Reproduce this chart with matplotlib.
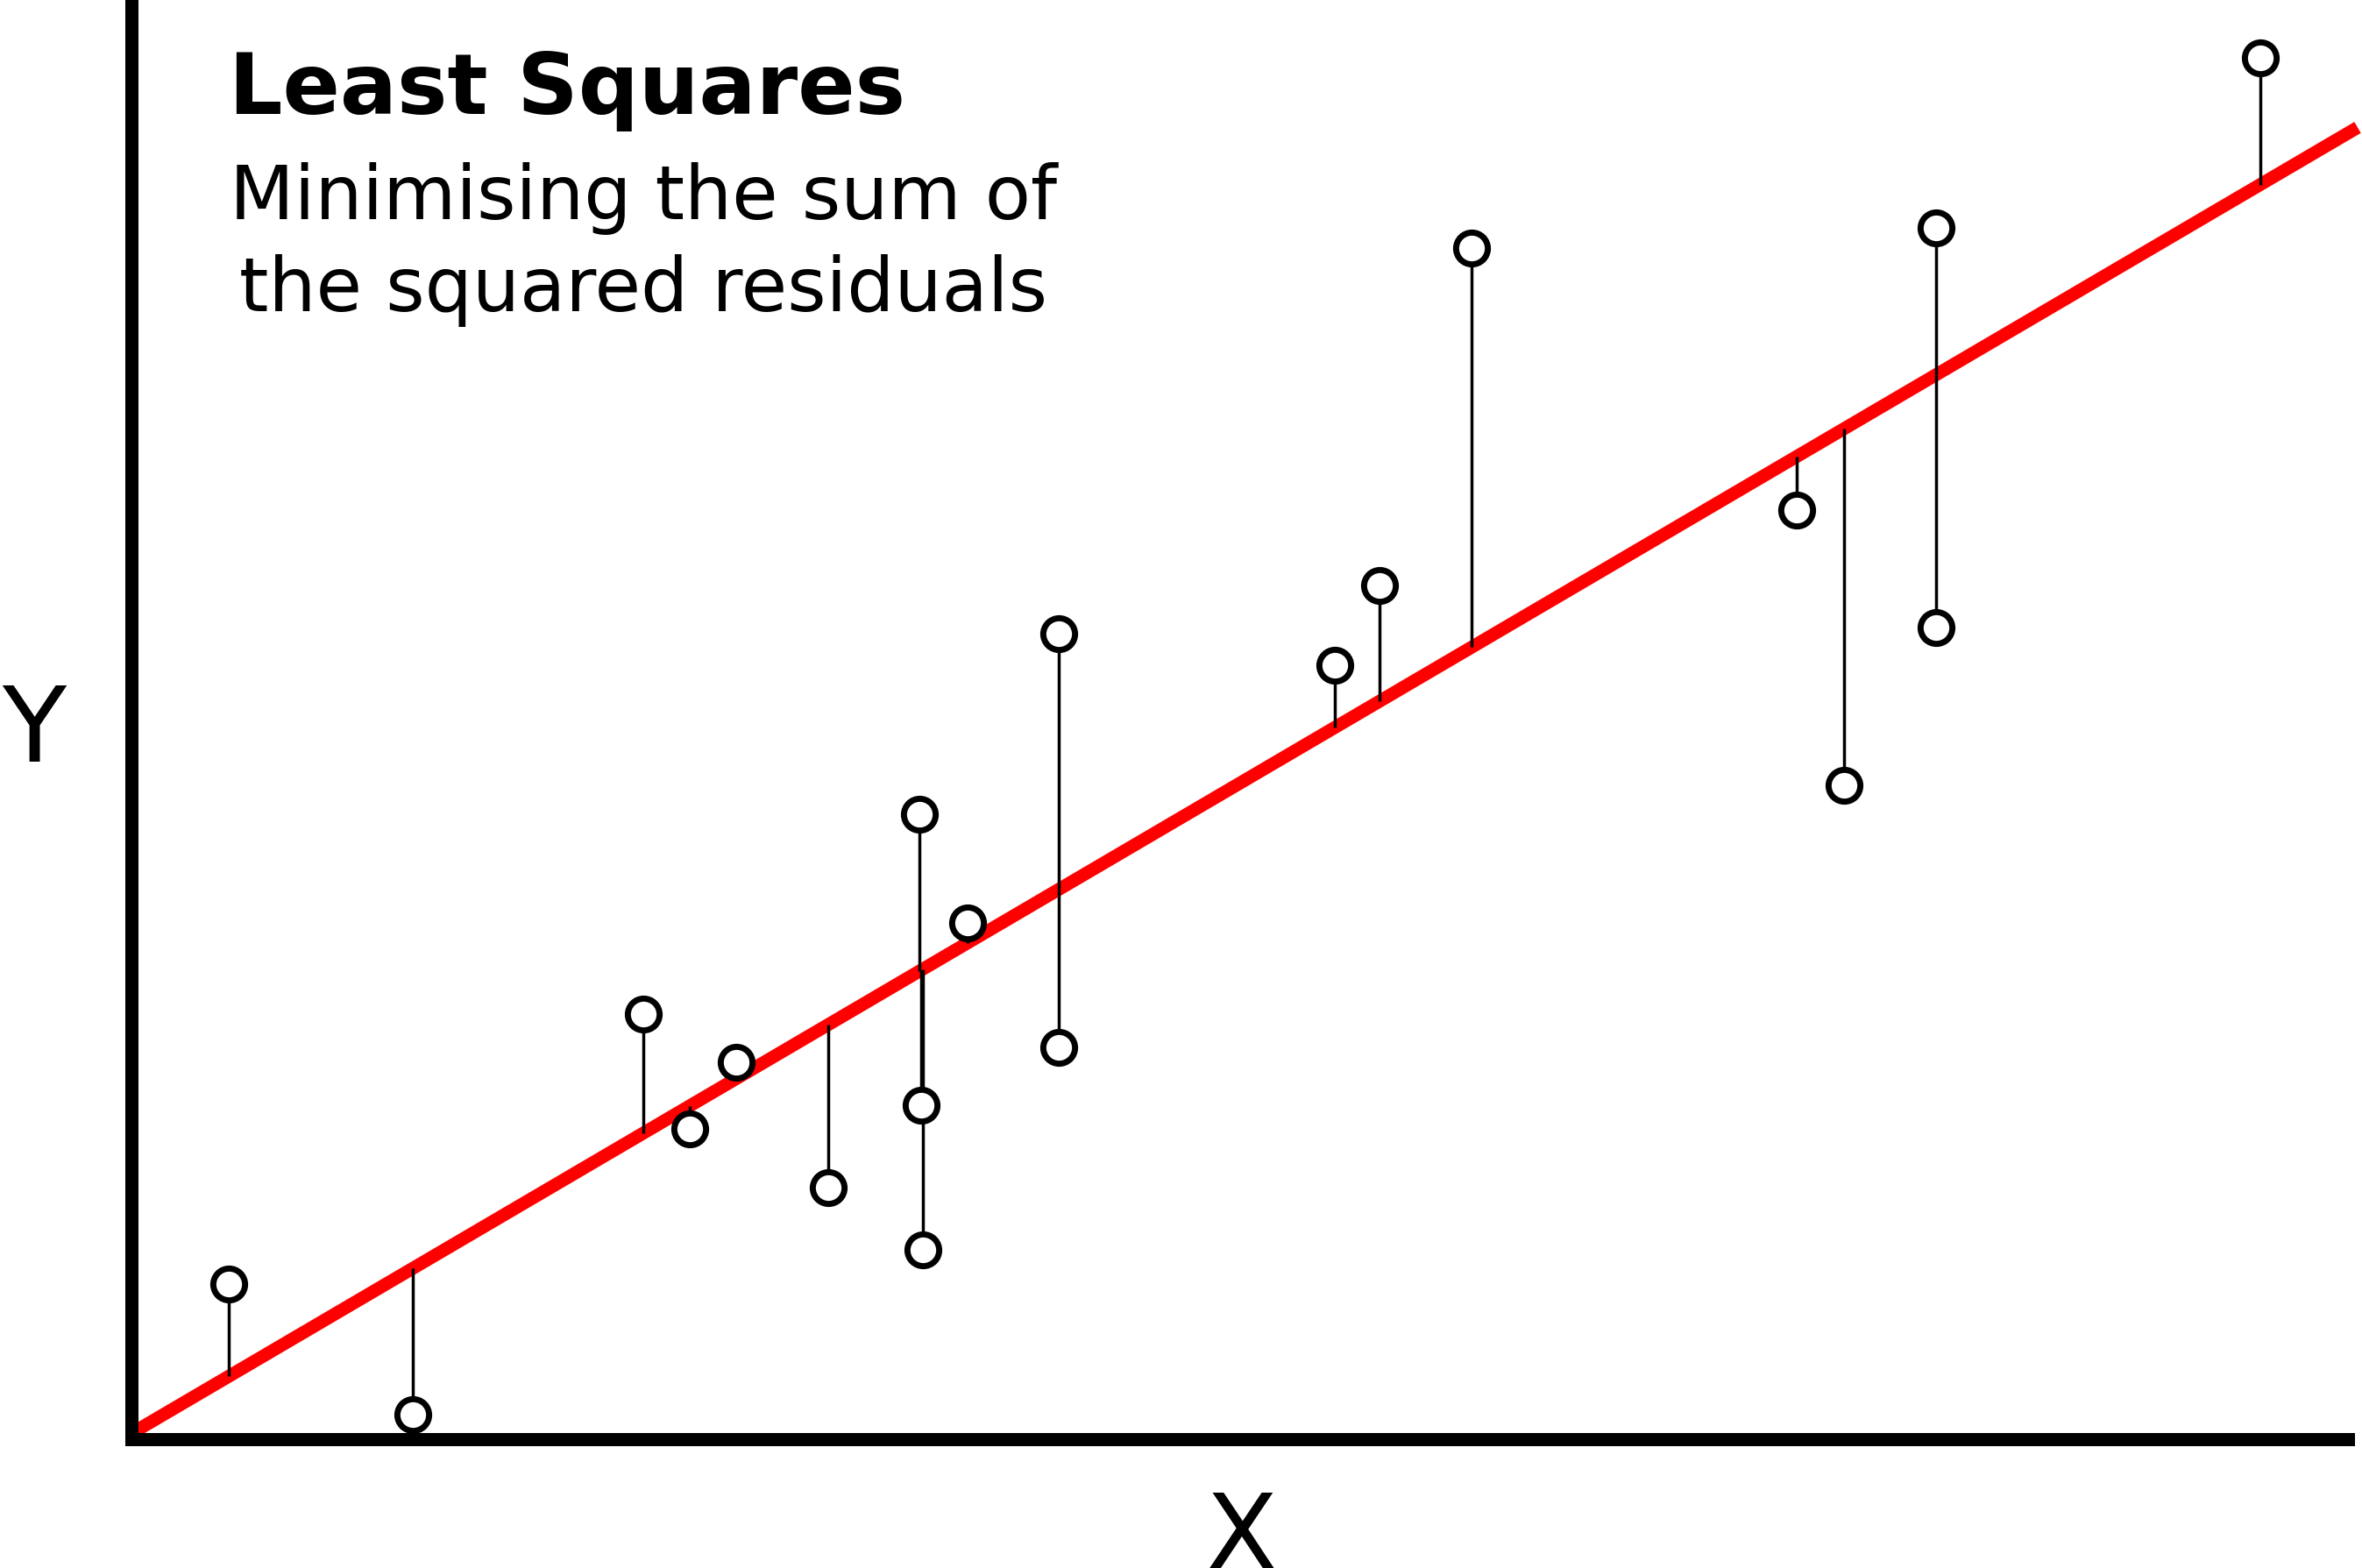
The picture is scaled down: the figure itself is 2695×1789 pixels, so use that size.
import matplotlib
matplotlib.use("Agg")
import matplotlib.pyplot as plt
import numpy as np

# observed points (arbitrary units, origin at the axes corner)
x_pts = [1.11, 3.21, 5.84, 6.37, 6.90, 7.95, 8.99, 9.01, 9.03, 9.54,
         10.58, 10.58, 13.73, 14.24, 15.29, 19.00, 19.54, 20.59, 20.59, 24.29]
y_pts = [1.77, 0.28, 4.85, 3.54, 4.30, 2.87, 7.13, 3.81, 2.16, 5.89,
         9.19, 4.47, 8.83, 9.74, 13.59, 10.60, 7.46, 13.82, 9.26, 15.76]

# fitted line
fit_intercept = 0.066
fit_slope = 0.5866
fit_x = [0.0, 25.4]

title = "Least Squares"
subtitle_lines = ["Minimising the sum of", "the squared residuals"]

W, H = 2695, 1790
fig = plt.figure(figsize=(W / 100, H / 100), dpi=100)
ax = fig.add_axes([150 / W, (H - 1643) / H, (W - 150) / W, 1643 / H])
ax.set_xlim(0, 25.45)
ax.set_ylim(0, 16.43)

fit_y = [fit_intercept + fit_slope * v for v in fit_x]
ax.plot(fit_x, fit_y, color="#ff0000", lw=10.6, solid_capstyle="butt",
        zorder=2, clip_on=False)

x_arr = np.array(x_pts)
y_hat = fit_intercept + fit_slope * x_arr
ax.vlines(x_arr, y_pts, y_hat, color="black", lw=2.5, zorder=3)

ax.plot(x_pts, y_pts, "o", ms=26.1, mfc="white", mec="black", mew=5,
        zorder=4, clip_on=False)

for side in ["top", "right"]:
    ax.spines[side].set_visible(False)
for side in ["left", "bottom"]:
    ax.spines[side].set_linewidth(10.8)
    ax.spines[side].set_capstyle("projecting")
    ax.spines[side].set_zorder(5)
ax.spines["bottom"].set_bounds(0, 25.29)
ax.set_xticks([])
ax.set_yticks([])

fig.text(261 / W, 1 - 130 / H, title, fontsize=69.5, fontweight="bold",
         ha="left", va="baseline", family="DejaVu Sans")
for i, line in enumerate(subtitle_lines):
    fig.text(734 / W, 1 - (250 + 105 * i) / H, line, fontsize=61.5,
             ha="center", va="baseline", family="DejaVu Sans")

fig.text(39 / W, 1 - 869 / H, "Y", fontsize=86, ha="center",
         va="baseline", family="DejaVu Sans")
fig.text(1416 / W, 1 - 1790 / H, "X", fontsize=86, ha="center",
         va="baseline", family="DejaVu Sans")

fig.savefig("out.png", dpi=100)
